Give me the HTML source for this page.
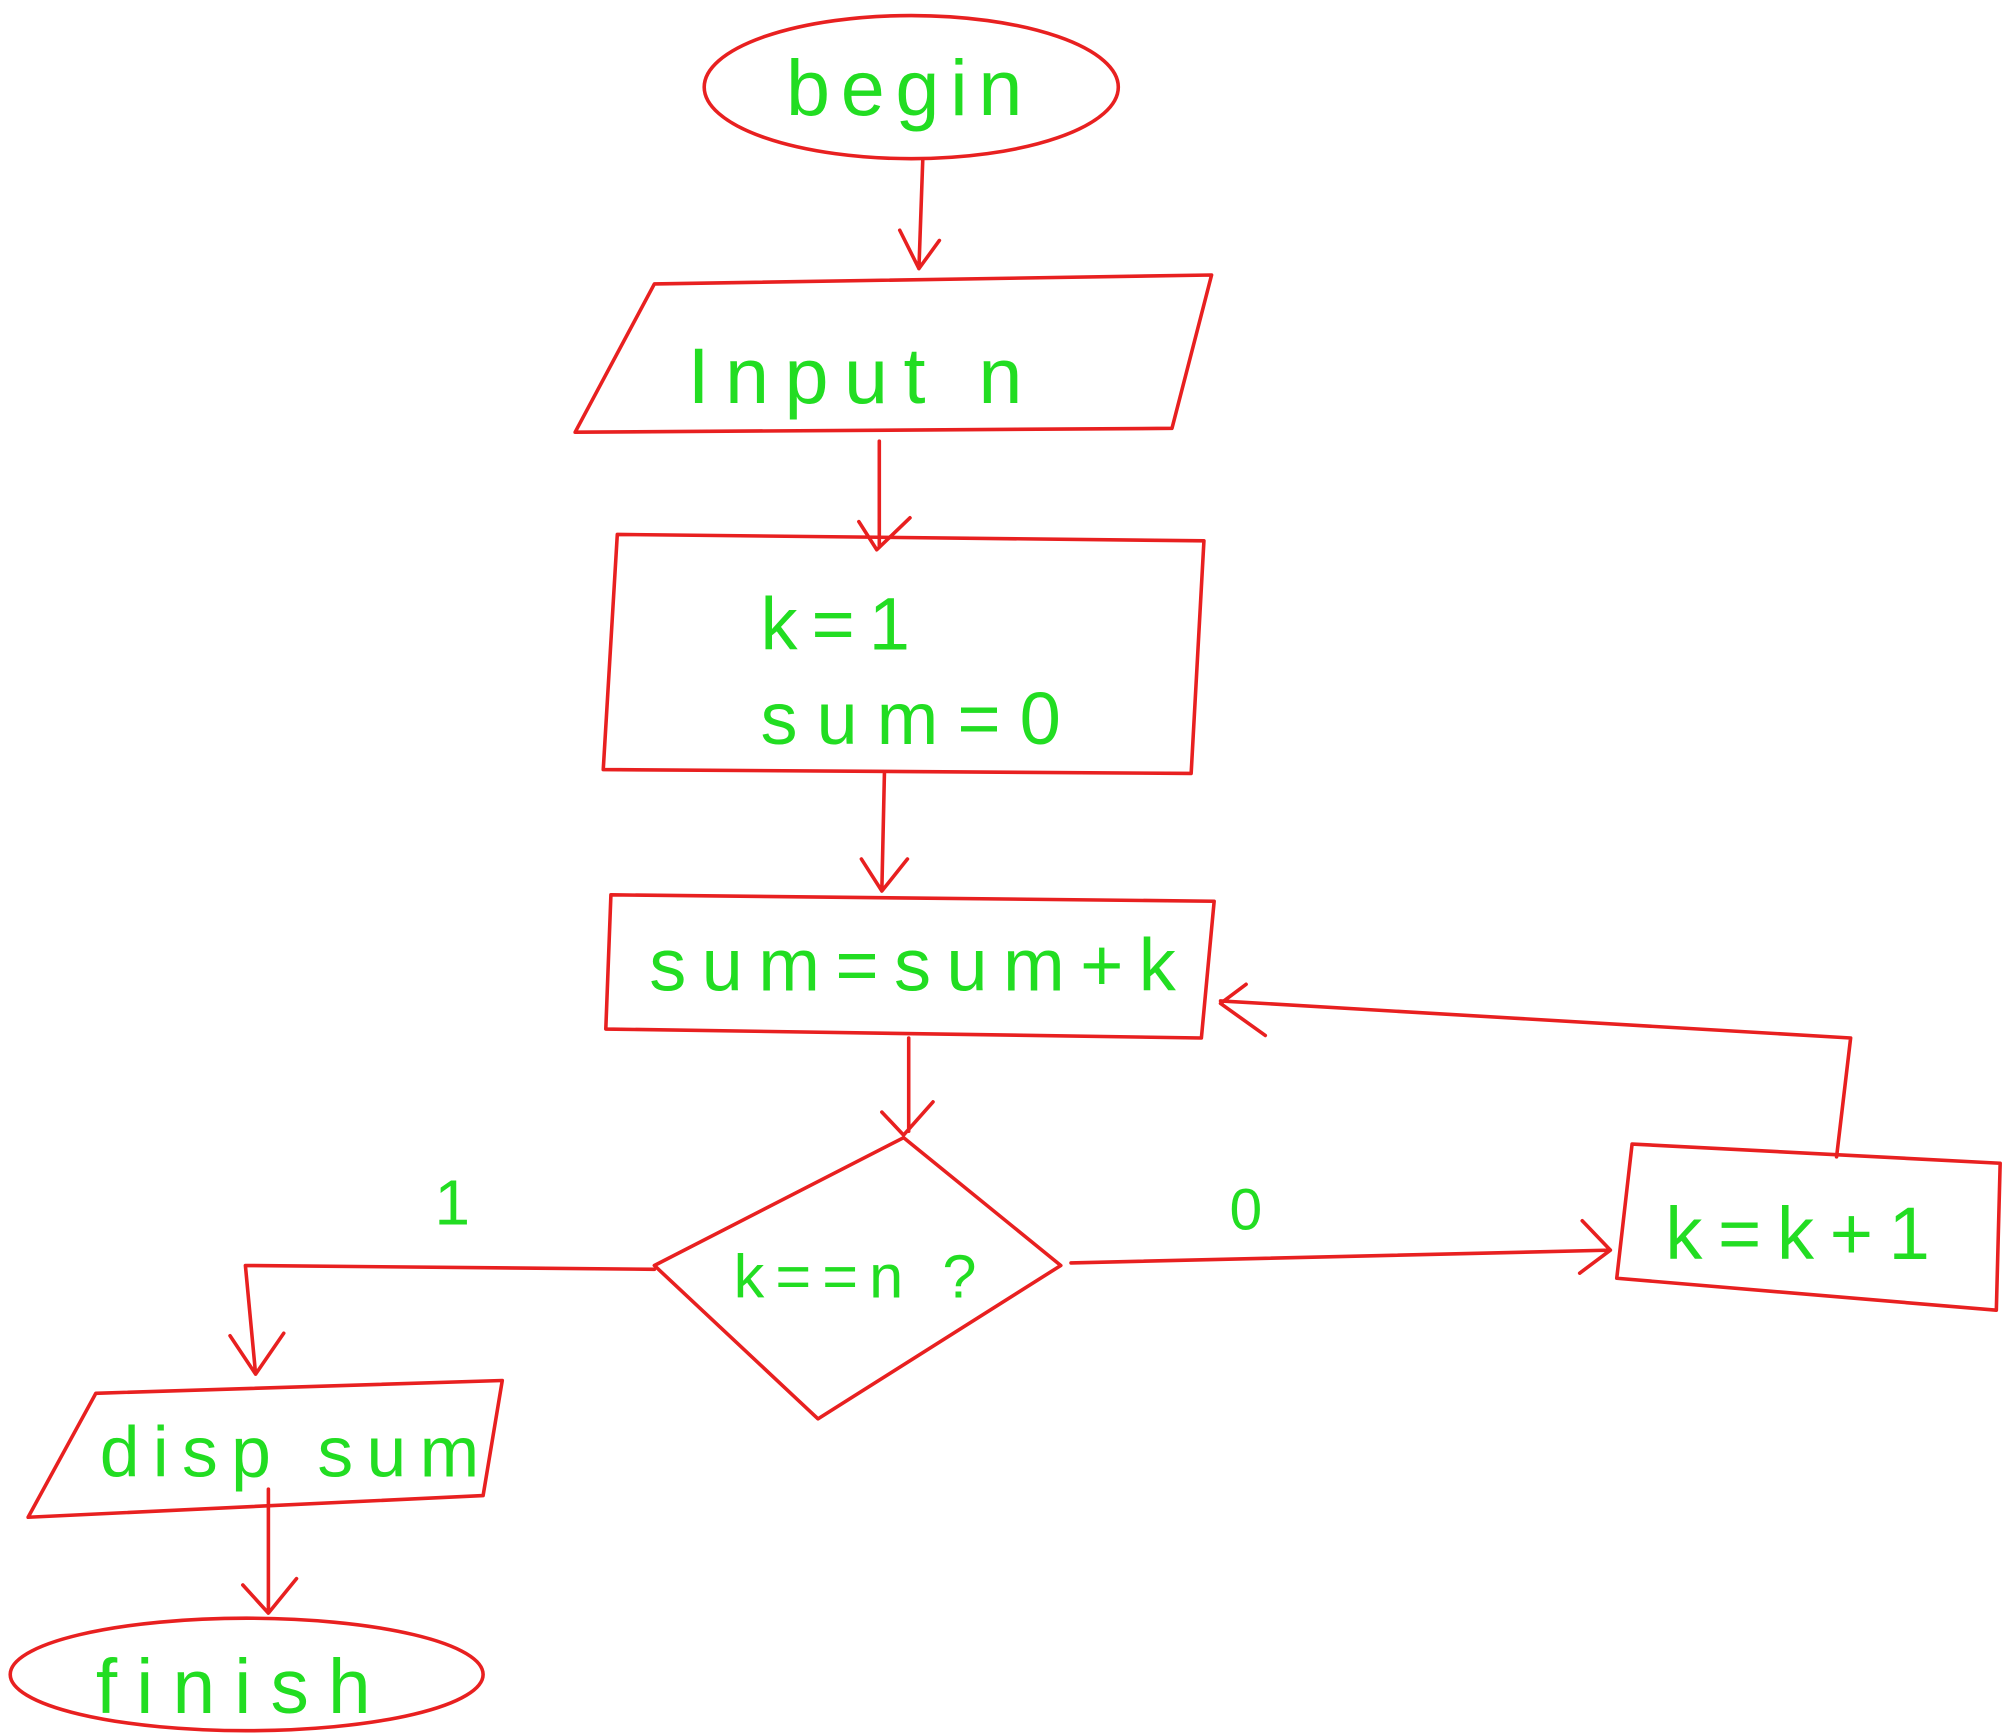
<!DOCTYPE html>
<html><head><meta charset="utf-8"><style>
html,body{margin:0;padding:0;background:#fff;}
svg{display:block;}
text{font-family:"Liberation Sans",sans-serif;fill:#22dd22;font-weight:normal;}
</style></head><body>
<svg width="2004" height="1736" viewBox="0 0 1568 1358" xmlns="http://www.w3.org/2000/svg">
<g fill="none" stroke="#e82020" stroke-width="2.8" stroke-linejoin="round" stroke-linecap="round">
<ellipse cx="713" cy="68" rx="162" ry="56"/>
<path d="M722 125 L719 210 M704 180 L719 210 L735 188"/>
<path d="M450 338 L512 222 L948 215 L917 335 Z"/>
<path d="M688 345 L688 428 M672 408 L686 430 L712 405"/>
<path d="M483 418 L942 423 L932 605 L472 602 Z"/>
<path d="M692 605 L690 696 M674 672 L690 697 L710 672"/>
<path d="M478 700 L950 705 L940 812 L474 805 Z"/>
<path d="M711 812 L711 885 M690 870 L707 888 L730 862"/>
<path d="M707 890 L830 990 L640 1110 L512 990 Z"/>
<path d="M512 993 L192 990 L200 1075 M180 1045 L200 1075 L222 1043"/>
<path d="M838 988 L1260 978 M1238 955 L1260 978 L1236 996"/>
<path d="M1277 895 L1565 910 L1562 1025 L1265 1000 Z"/>
<path d="M1437 905 L1448 812 L955 783 M975 770 L955 785 L990 810"/>
<path d="M22 1187 L75 1090 L393 1080 L378 1170 Z"/>
<path d="M210 1165 L210 1260 M190 1240 L210 1262 L232 1235"/>
<ellipse cx="193" cy="1310" rx="185" ry="44"/>
</g>
<text x="615" y="90" font-size="62" textLength="185">begin</text>
<text x="538" y="315" font-size="62" textLength="262">Input n</text>
<text x="595" y="508" font-size="58" textLength="117">k=1</text>
<text x="595" y="582" font-size="58" textLength="235">sum=0</text>
<text x="508" y="775" font-size="58" textLength="412">sum=sum+k</text>
<text x="574" y="1015" font-size="48" textLength="190">k==n ?</text>
<text x="340" y="958" font-size="50">1</text>
<text x="962" y="962" font-size="46">0</text>
<text x="1303" y="985" font-size="58" textLength="207">k=k+1</text>
<text x="78" y="1155" font-size="56" textLength="297">disp sum</text>
<text x="75" y="1340" font-size="60" textLength="215">finish</text>
</svg>
</body></html>
